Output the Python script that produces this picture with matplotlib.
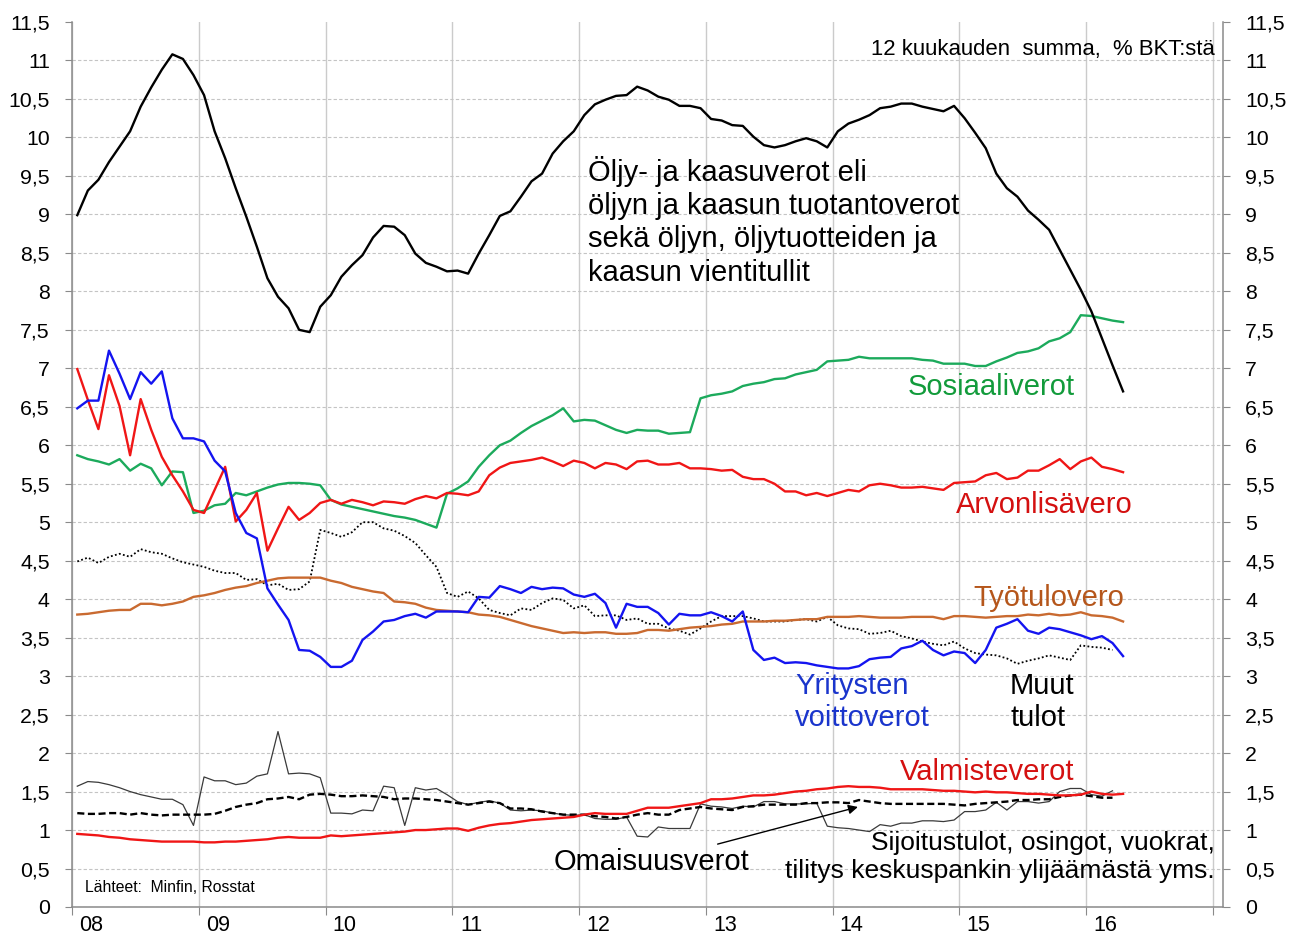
import numpy as np
import matplotlib
matplotlib.use('Agg')
import matplotlib.pyplot as plt

plt.rcParams['font.family'] = ['Liberation Sans', 'DejaVu Sans']

# 12 kuukauden summa, % BKT:stä, kuukausittain 1/2008 ->
oil = [8.99, 9.31, 9.45, 9.68, 9.88, 10.08, 10.40, 10.65, 10.88, 11.08,
       11.02, 10.81, 10.55, 10.08, 9.73, 9.34, 8.97, 8.58, 8.17, 7.93,
       7.78, 7.50, 7.47, 7.80, 7.95, 8.19, 8.34, 8.47, 8.70, 8.85,
       8.84, 8.73, 8.49, 8.37, 8.32, 8.26, 8.27, 8.23, 8.49, 8.73,
       8.98, 9.04, 9.23, 9.43, 9.53, 9.79, 9.95, 10.08, 10.29, 10.43,
       10.49, 10.54, 10.55, 10.66, 10.61, 10.53, 10.49, 10.41, 10.41, 10.38,
       10.24, 10.22, 10.16, 10.15, 10.01, 9.90, 9.87, 9.90, 9.95, 9.99,
       9.95, 9.87, 10.08, 10.18, 10.23, 10.29, 10.38, 10.40, 10.44, 10.44,
       10.40, 10.37, 10.34, 10.41, 10.25, 10.06, 9.86, 9.53, 9.34, 9.23,
       9.05, 8.93, 8.80, 8.54, 8.28, 8.02, 7.74, 7.39, 7.04, 6.70]
social = [5.87, 5.82, 5.79, 5.75, 5.82, 5.67, 5.76, 5.70, 5.48, 5.66,
          5.65, 5.12, 5.15, 5.22, 5.24, 5.38, 5.35, 5.40, 5.45, 5.49,
          5.51, 5.51, 5.50, 5.48, 5.29, 5.23, 5.20, 5.17, 5.14, 5.11,
          5.08, 5.06, 5.03, 4.98, 4.93, 5.37, 5.44, 5.53, 5.72, 5.87,
          6.00, 6.06, 6.16, 6.25, 6.32, 6.39, 6.48, 6.31, 6.33, 6.32,
          6.26, 6.20, 6.16, 6.20, 6.19, 6.19, 6.15, 6.16, 6.17, 6.61,
          6.65, 6.67, 6.70, 6.77, 6.80, 6.82, 6.86, 6.87, 6.92, 6.95,
          6.98, 7.09, 7.10, 7.11, 7.15, 7.13, 7.13, 7.13, 7.13, 7.13,
          7.11, 7.10, 7.06, 7.06, 7.06, 7.03, 7.03, 7.09, 7.14, 7.20,
          7.22, 7.26, 7.35, 7.39, 7.47, 7.69, 7.68, 7.65, 7.62, 7.60]
vat = [6.99, 6.59, 6.21, 6.91, 6.51, 5.87, 6.60, 6.20, 5.85, 5.61,
       5.40, 5.16, 5.12, 5.42, 5.72, 5.01, 5.16, 5.38, 4.63, 4.92,
       5.20, 5.03, 5.12, 5.25, 5.29, 5.24, 5.29, 5.26, 5.22, 5.27,
       5.26, 5.24, 5.30, 5.34, 5.31, 5.38, 5.37, 5.35, 5.40, 5.61,
       5.71, 5.77, 5.79, 5.81, 5.84, 5.79, 5.73, 5.80, 5.77, 5.70,
       5.77, 5.75, 5.69, 5.79, 5.80, 5.75, 5.75, 5.77, 5.70, 5.70,
       5.69, 5.67, 5.68, 5.59, 5.56, 5.56, 5.50, 5.40, 5.40, 5.35,
       5.38, 5.34, 5.38, 5.42, 5.40, 5.48, 5.50, 5.48, 5.45, 5.45,
       5.46, 5.44, 5.42, 5.51, 5.52, 5.53, 5.61, 5.64, 5.56, 5.58,
       5.67, 5.67, 5.74, 5.82, 5.69, 5.79, 5.84, 5.72, 5.69, 5.65]
corp = [6.48, 6.58, 6.58, 7.23, 6.93, 6.60, 6.95, 6.80, 6.96, 6.35,
        6.09, 6.09, 6.05, 5.80, 5.66, 5.12, 4.86, 4.79, 4.14, 3.93,
        3.73, 3.34, 3.33, 3.25, 3.12, 3.12, 3.20, 3.47, 3.58, 3.71,
        3.73, 3.78, 3.81, 3.76, 3.84, 3.84, 3.84, 3.83, 4.03, 4.02,
        4.17, 4.13, 4.08, 4.16, 4.13, 4.15, 4.14, 4.06, 4.03, 4.07,
        3.95, 3.63, 3.94, 3.90, 3.90, 3.82, 3.67, 3.81, 3.79, 3.79,
        3.83, 3.78, 3.71, 3.84, 3.34, 3.21, 3.24, 3.17, 3.18, 3.17,
        3.14, 3.12, 3.10, 3.10, 3.13, 3.22, 3.24, 3.25, 3.36, 3.39,
        3.46, 3.34, 3.27, 3.32, 3.30, 3.17, 3.34, 3.63, 3.68, 3.74,
        3.59, 3.55, 3.63, 3.61, 3.57, 3.53, 3.48, 3.52, 3.43, 3.26]
labour = [3.80, 3.81, 3.83, 3.85, 3.86, 3.86, 3.94, 3.94, 3.92, 3.94,
          3.97, 4.03, 4.05, 4.08, 4.12, 4.15, 4.17, 4.21, 4.24, 4.27,
          4.28, 4.28, 4.28, 4.28, 4.24, 4.21, 4.16, 4.13, 4.10, 4.08,
          3.97, 3.96, 3.94, 3.89, 3.86, 3.85, 3.84, 3.83, 3.80, 3.79,
          3.77, 3.73, 3.69, 3.65, 3.62, 3.59, 3.56, 3.57, 3.56, 3.57,
          3.57, 3.55, 3.55, 3.56, 3.60, 3.60, 3.59, 3.61, 3.63, 3.64,
          3.65, 3.67, 3.68, 3.71, 3.71, 3.71, 3.72, 3.72, 3.73, 3.74,
          3.74, 3.77, 3.77, 3.77, 3.78, 3.77, 3.76, 3.76, 3.76, 3.77,
          3.77, 3.77, 3.74, 3.78, 3.78, 3.77, 3.76, 3.77, 3.78, 3.78,
          3.80, 3.79, 3.81, 3.79, 3.80, 3.83, 3.79, 3.78, 3.76, 3.71]
other = [4.49, 4.54, 4.47, 4.55, 4.59, 4.55, 4.65, 4.61, 4.59, 4.53,
         4.48, 4.45, 4.42, 4.37, 4.34, 4.34, 4.25, 4.26, 4.18, 4.20,
         4.12, 4.13, 4.23, 4.90, 4.86, 4.81, 4.87, 5.00, 5.00, 4.92,
         4.89, 4.82, 4.73, 4.57, 4.42, 4.08, 4.03, 4.10, 4.01, 3.86,
         3.82, 3.79, 3.88, 3.86, 3.95, 4.01, 3.99, 3.88, 3.92, 3.78,
         3.79, 3.79, 3.73, 3.75, 3.68, 3.68, 3.62, 3.59, 3.54, 3.62,
         3.71, 3.78, 3.78, 3.78, 3.75, 3.71, 3.71, 3.71, 3.73, 3.74,
         3.71, 3.77, 3.66, 3.62, 3.61, 3.55, 3.56, 3.59, 3.52, 3.49,
         3.45, 3.42, 3.40, 3.45, 3.36, 3.30, 3.28, 3.27, 3.23, 3.16,
         3.20, 3.23, 3.27, 3.24, 3.21, 3.40, 3.38, 3.37, 3.34]
invest = [1.57, 1.63, 1.62, 1.59, 1.55, 1.50, 1.46, 1.43, 1.40, 1.40,
          1.33, 1.06, 1.69, 1.64, 1.64, 1.59, 1.61, 1.70, 1.73, 2.28,
          1.73, 1.74, 1.73, 1.68, 1.22, 1.22, 1.21, 1.26, 1.25, 1.57,
          1.55, 1.06, 1.55, 1.52, 1.54, 1.46, 1.37, 1.33, 1.36, 1.38,
          1.35, 1.26, 1.25, 1.26, 1.25, 1.22, 1.20, 1.19, 1.20, 1.15,
          1.14, 1.14, 1.17, 0.92, 0.91, 1.04, 1.02, 1.02, 1.02, 1.34,
          1.31, 1.30, 1.28, 1.31, 1.30, 1.37, 1.37, 1.34, 1.34, 1.34,
          1.35, 1.05, 1.03, 1.02, 1.00, 0.98, 1.07, 1.05, 1.09, 1.09,
          1.12, 1.12, 1.11, 1.13, 1.24, 1.24, 1.26, 1.36, 1.26, 1.37,
          1.37, 1.35, 1.37, 1.50, 1.54, 1.54, 1.46, 1.44, 1.51]
prop = [1.22, 1.21, 1.21, 1.22, 1.22, 1.20, 1.22, 1.20, 1.19, 1.20,
        1.20, 1.20, 1.20, 1.21, 1.25, 1.30, 1.33, 1.35, 1.40, 1.41,
        1.43, 1.40, 1.46, 1.47, 1.46, 1.44, 1.44, 1.45, 1.44, 1.43,
        1.40, 1.41, 1.41, 1.40, 1.39, 1.37, 1.35, 1.33, 1.35, 1.37,
        1.35, 1.28, 1.28, 1.27, 1.24, 1.22, 1.20, 1.20, 1.20, 1.18,
        1.17, 1.15, 1.17, 1.20, 1.22, 1.20, 1.20, 1.26, 1.28, 1.30,
        1.28, 1.27, 1.26, 1.30, 1.31, 1.33, 1.33, 1.33, 1.33, 1.35,
        1.35, 1.36, 1.36, 1.35, 1.39, 1.37, 1.35, 1.34, 1.34, 1.34,
        1.34, 1.34, 1.34, 1.33, 1.32, 1.34, 1.35, 1.36, 1.37, 1.39,
        1.39, 1.40, 1.40, 1.43, 1.45, 1.46, 1.44, 1.42, 1.42]
excise = [0.95, 0.94, 0.93, 0.91, 0.90, 0.88, 0.87, 0.86, 0.85, 0.85,
          0.85, 0.85, 0.84, 0.84, 0.85, 0.85, 0.86, 0.87, 0.88, 0.90,
          0.91, 0.90, 0.90, 0.90, 0.93, 0.92, 0.93, 0.94, 0.95, 0.96,
          0.97, 0.98, 1.00, 1.00, 1.01, 1.02, 1.02, 0.99, 1.03, 1.06,
          1.08, 1.09, 1.11, 1.13, 1.14, 1.15, 1.16, 1.17, 1.20, 1.22,
          1.21, 1.21, 1.21, 1.25, 1.29, 1.29, 1.29, 1.31, 1.33, 1.35,
          1.40, 1.40, 1.41, 1.43, 1.45, 1.45, 1.46, 1.48, 1.50, 1.51,
          1.53, 1.54, 1.56, 1.57, 1.56, 1.56, 1.55, 1.53, 1.53, 1.53,
          1.53, 1.52, 1.51, 1.51, 1.50, 1.49, 1.50, 1.49, 1.49, 1.48,
          1.47, 1.47, 1.46, 1.45, 1.45, 1.46, 1.50, 1.47, 1.46, 1.47]

years = list(range(2008, 2018))
year_labels = ['08', '09', '10', '11', '12', '13', '14', '15', '16']


def months(series):
    # kuukauden keskikohta vuoden murto-osana
    return 2008 + (np.arange(len(series)) + 0.5) / 12


fig = plt.figure(figsize=(13.01, 9.39), dpi=100)
ax = fig.add_axes([72 / 1301, 32 / 939, 1151 / 1301, 885 / 939])

ax.plot(months(invest), invest, color='#3a3a3a', lw=0.9)
ax.plot(months(prop), prop, color='black', lw=1.7, ls=(0, (3, 1.5)))
ax.plot(months(excise), excise, color='#f01616', lw=1.7)
ax.plot(months(other), other, color='black', lw=1.3, ls=(0, (1, 1.3)))
ax.plot(months(labour), labour, color='#c96a30', lw=1.7)
ax.plot(months(social), social, color='#1caa5c', lw=1.7)
ax.plot(months(vat), vat, color='#f01616', lw=1.7)
ax.plot(months(corp), corp, color='#1414f0', lw=1.7)
ax.plot(months(oil), oil, color='black', lw=1.7)

ax.set_xlim(2008, 2017.08)
ax.set_ylim(0, 11.5)

yt = np.arange(0, 11.51, 0.5)
ax.set_yticks(yt)
ax.set_yticklabels([('%g' % v).replace('.', ',') for v in yt])
ax.yaxis.grid(True, color='#c4c4c4', lw=0.8, ls=(0, (3, 2)))
ax.get_ygridlines()[-1].set_visible(False)

ax.set_xticks(years)
ax.set_xticklabels([])
ax.set_xticks([y + 0.15 for y in years[:-1]], minor=True)
ax.set_xticklabels(year_labels, minor=True)
ax.xaxis.grid(True, which='major', color='#cbcbcb', lw=1)
ax.set_axisbelow(True)

ax.tick_params(axis='y', which='both', left=True, right=True, labelleft=True,
               labelright=True, labelsize=15.3, length=5, color='#8a8a8a')
ax.tick_params(axis='y', which='major', pad=11)
ax.tick_params(axis='x', which='major', length=6, color='#8a8a8a')
ax.tick_params(axis='x', which='minor', length=0, labelsize=15.5, pad=6)

ax.spines['top'].set_visible(False)
for s in ['left', 'right', 'bottom']:
    ax.spines[s].set_color('#8a8a8a')
    ax.spines[s].set_linewidth(1.1)

big = 21
ax.text(2012.07, 8.91, 'Öljy- ja kaasuverot eli\nöljyn ja kaasun tuotantoverot\n'
        'sekä öljyn, öljytuotteiden ja\nkaasun vientitullit',
        fontsize=big, va='center', ha='left', linespacing=1.24)
ax.text(2017.015, 11.14, '12 kuukauden  summa,  % BKT:stä', fontsize=15.9,
        ha='right', va='center')
ax.text(2014.59, 6.76, 'Sosiaaliverot', color='#129b3b', fontsize=big, va='center')
ax.text(2014.97, 5.22, 'Arvonlisävero', color='#d41010', fontsize=big, va='center')
ax.text(2015.11, 4.02, 'Työtulovero', color='#b5561b', fontsize=big, va='center')
ax.text(2013.705, 2.66, 'Yritysten\nvoittoverot', color='#1a35cc', fontsize=big,
        va='center', linespacing=1.2)
ax.text(2015.40, 2.66, 'Muut\ntulot', color='black', fontsize=big, va='center',
        linespacing=1.2)
ax.text(2014.53, 1.75, 'Valmisteverot', color='#d41010', fontsize=big, va='center')
ax.text(2017.015, 0.65, 'Sijoitustulot, osingot, vuokrat,\n'
        'tilitys keskuspankin ylijäämästä yms.', fontsize=19, ha='right',
        va='center', multialignment='right', linespacing=1.17)
ax.annotate('Omaisuusverot', xy=(2014.20, 1.30), xytext=(2011.80, 0.59),
            fontsize=big, va='center', ha='left',
            arrowprops=dict(arrowstyle='-|>', color='black', lw=1,
                            mutation_scale=14, shrinkA=2, shrinkB=0))
ax.text(2008.10, 0.25, 'Lähteet:  Minfin, Rosstat', fontsize=11.3, va='center')

fig.savefig('out.png', dpi=100)
